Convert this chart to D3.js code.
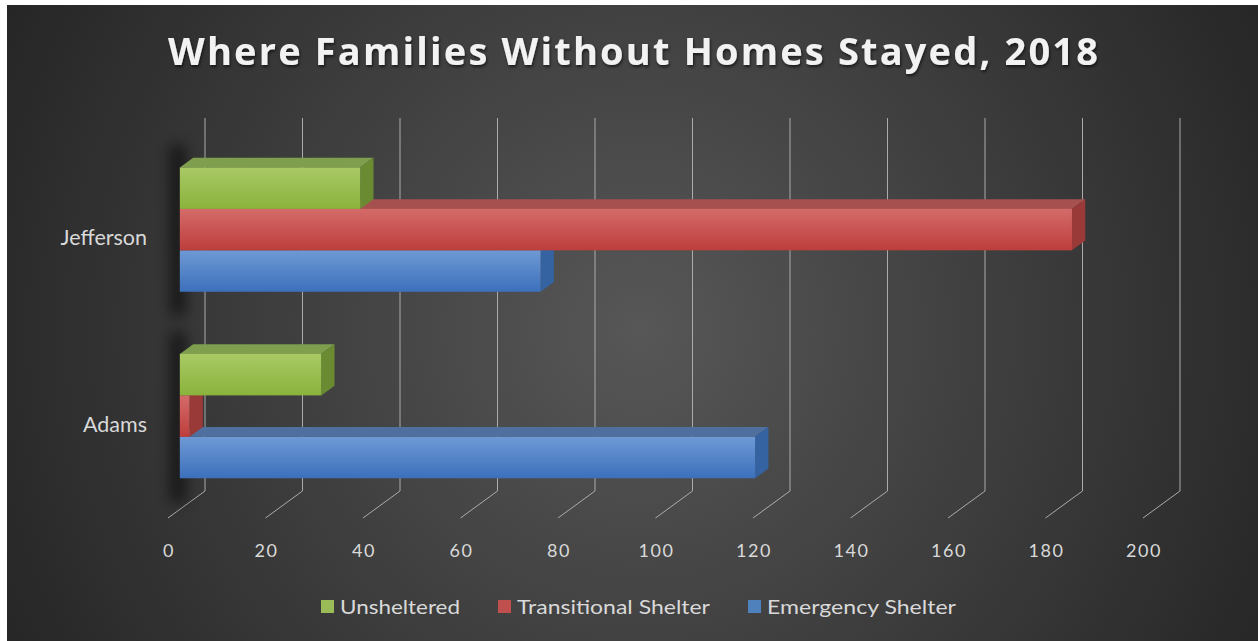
<!DOCTYPE html>
<html>
<head>
<meta charset="utf-8">
<script src="https://cdn.jsdelivr.net/npm/d3@7"></script>
<style>
  html, body { margin: 0; padding: 0; background: #ffffff; }
  svg { display: block; }
</style>
</head>
<body>
<svg id="chart" width="1258" height="641"></svg>
<script>
// ---- data ----
const categories = ["Jefferson", "Adams"];
const seriesNames = ["Unsheltered", "Transitional Shelter", "Emergency Shelter"];
const unsheltered = [37, 29];
const transitional = [183, 2];
const emergency = [74, 118];
const xTicks = [0, 20, 40, 60, 80, 100, 120, 140, 160, 180, 200];
const titleText = "Where Families Without Homes Stayed, 2018";

const seriesValues = [unsheltered, transitional, emergency];
const seriesColors = [
  { top: "#a9c965", bot: "#8ab33c", cap: "#7f9e4e", side: "#6a8b31", key: "#9bbb59" },
  { top: "#d46b69", bot: "#bd3e3c", cap: "#a65150", side: "#993a38", key: "#c0504d" },
  { top: "#6e99d5", bot: "#3c70bb", cap: "#4f6f9f", side: "#3563a2", key: "#4f81bd" }
];

const W = 1258, H = 641;
const svg = d3.select("#chart");
const defs = svg.append("defs");

// background
const bg = defs.append("radialGradient").attr("id", "bgGrad")
  .attr("gradientUnits", "userSpaceOnUse")
  .attr("cx", 640).attr("cy", 330).attr("r", 720);
bg.append("stop").attr("offset", "0%").attr("stop-color", "#575757");
bg.append("stop").attr("offset", "100%").attr("stop-color", "#252525");
svg.append("rect").attr("x", 7).attr("y", 5).attr("width", W - 7).attr("height", H - 5)
  .attr("fill", "url(#bgGrad)");

// filters
const blur = defs.append("filter").attr("id", "shadowBlur")
  .attr("x", "-300%").attr("y", "-30%").attr("width", "700%").attr("height", "160%");
blur.append("feGaussianBlur").attr("stdDeviation", 7);

const tShadow = defs.append("filter").attr("id", "titleShadow")
  .attr("x", "-5%").attr("y", "-30%").attr("width", "110%").attr("height", "160%");
tShadow.append("feDropShadow").attr("dx", 1).attr("dy", 2).attr("stdDeviation", 1.5)
  .attr("flood-color", "#000").attr("flood-opacity", 0.6);

// ---- oblique 3D geometry ----
const front = { x0: 168, yTop: 145, yBot: 518 };
const depthVec = { dx: 37, dy: -27 };
const barDepth = [0.32, 0.68];

const x = d3.scaleLinear().domain([0, 200]).range([0, 975]);
const yBand = d3.scaleBand().domain(categories).range([front.yTop, front.yBot])
  .paddingInner(1 / 3).paddingOuter(1 / 6);
const ySeries = d3.scaleBand().domain(seriesNames).range([0, yBand.bandwidth()]);

function P(v, y, d) {
  return [front.x0 + x(v) + depthVec.dx * d, y + depthVec.dy * d];
}

// gridlines: back wall verticals + floor diagonals
const grid = svg.append("g").attr("stroke", "#ababab").attr("stroke-width", 1).attr("fill", "none");
xTicks.forEach(t => {
  const bTop = P(t, front.yTop, 1), bBot = P(t, front.yBot, 1), fBot = P(t, front.yBot, 0);
  grid.append("path").attr("d", d3.line()([bTop, bBot, fBot]));
});

// tick labels
svg.append("g").selectAll("text").data(xTicks).join("text")
  .attr("x", t => P(t, front.yBot, 0)[0] + 1)
  .attr("y", 557)
  .attr("text-anchor", "middle")
  .attr("font-family", "Lato, 'Open Sans', sans-serif")
  .attr("font-size", 18)
  .attr("letter-spacing", 1.5)
  .attr("fill", "#d9d9d9")
  .text(d => d);

// category labels
svg.append("g").selectAll("text").data(categories).join("text")
  .attr("x", 147)
  .attr("y", c => yBand(c) + yBand.bandwidth() / 2 + 7)
  .attr("text-anchor", "end")
  .attr("font-family", "Lato, 'Open Sans', sans-serif")
  .attr("font-size", 21.5)
  .attr("fill", "#d9d9d9")
  .text(d => d);

// soft shadow left of each bar group
categories.forEach(c => {
  const y0 = yBand(c) + depthVec.dy * barDepth[0];
  svg.append("rect")
    .attr("x", P(0, 0, barDepth[0])[0] - 10)
    .attr("y", y0 - 22)
    .attr("width", 16)
    .attr("height", yBand.bandwidth() + 46)
    .attr("fill", "#000")
    .attr("opacity", 0.55)
    .attr("filter", "url(#shadowBlur)");
});

// front-face gradients
seriesColors.forEach((c, i) => {
  const g = defs.append("linearGradient").attr("id", "front" + i)
    .attr("x1", 0).attr("y1", 0).attr("x2", 0).attr("y2", 1);
  g.append("stop").attr("offset", "0%").attr("stop-color", c.top);
  g.append("stop").attr("offset", "100%").attr("stop-color", c.bot);
});

// bars: per category, draw lower series first so upper bars cover their caps
const bars = svg.append("g");
categories.forEach((cat, ci) => {
  for (let si = seriesNames.length - 1; si >= 0; si--) {
    const v = seriesValues[si][ci];
    const c = seriesColors[si];
    const yT = yBand(cat) + ySeries(seriesNames[si]);
    const yB = yT + ySeries.bandwidth();
    const d0 = barDepth[0], d1 = barDepth[1];
    const g = bars.append("g");
    // top face
    g.append("path").attr("fill", c.cap)
      .attr("d", d3.line()([P(0, yT, d0), P(v, yT, d0), P(v, yT, d1), P(0, yT, d1)]) + "Z");
    // right side face
    g.append("path").attr("fill", c.side)
      .attr("d", d3.line()([P(v, yT, d0), P(v, yB, d0), P(v, yB, d1), P(v, yT, d1)]) + "Z");
    // front face
    const a = P(0, yT, d0), b = P(v, yB, d0);
    g.append("rect").attr("x", a[0]).attr("y", a[1])
      .attr("width", b[0] - a[0]).attr("height", b[1] - a[1])
      .attr("fill", "url(#front" + si + ")");
  }
});

// title
svg.append("text")
  .attr("x", 633).attr("y", 65)
  .attr("text-anchor", "middle")
  .attr("font-family", "'Open Sans', Lato, sans-serif")
  .attr("font-weight", "bold")
  .attr("font-size", 38)
  .attr("textLength", 930)
  .attr("lengthAdjust", "spacing")
  .attr("fill", "#f2f2f2")
  .attr("filter", "url(#titleShadow)")
  .text(titleText);

// legend
const legendItems = [
  { name: seriesNames[0], color: seriesColors[0].key, sx: 321, tx: 340, tw: 120 },
  { name: seriesNames[1], color: seriesColors[1].key, sx: 498, tx: 517, tw: 193 },
  { name: seriesNames[2], color: seriesColors[2].key, sx: 748, tx: 767, tw: 189 }
];
const leg = svg.append("g");
legendItems.forEach(it => {
  leg.append("rect").attr("x", it.sx).attr("y", 600).attr("width", 13).attr("height", 13)
    .attr("fill", it.color);
  leg.append("text").attr("x", it.tx).attr("y", 614)
    .attr("font-family", "Lato, 'Open Sans', sans-serif")
    .attr("font-size", 20)
    .attr("textLength", it.tw)
    .attr("lengthAdjust", "spacingAndGlyphs")
    .attr("fill", "#d9d9d9")
    .text(it.name);
});
</script>
</body>
</html>
